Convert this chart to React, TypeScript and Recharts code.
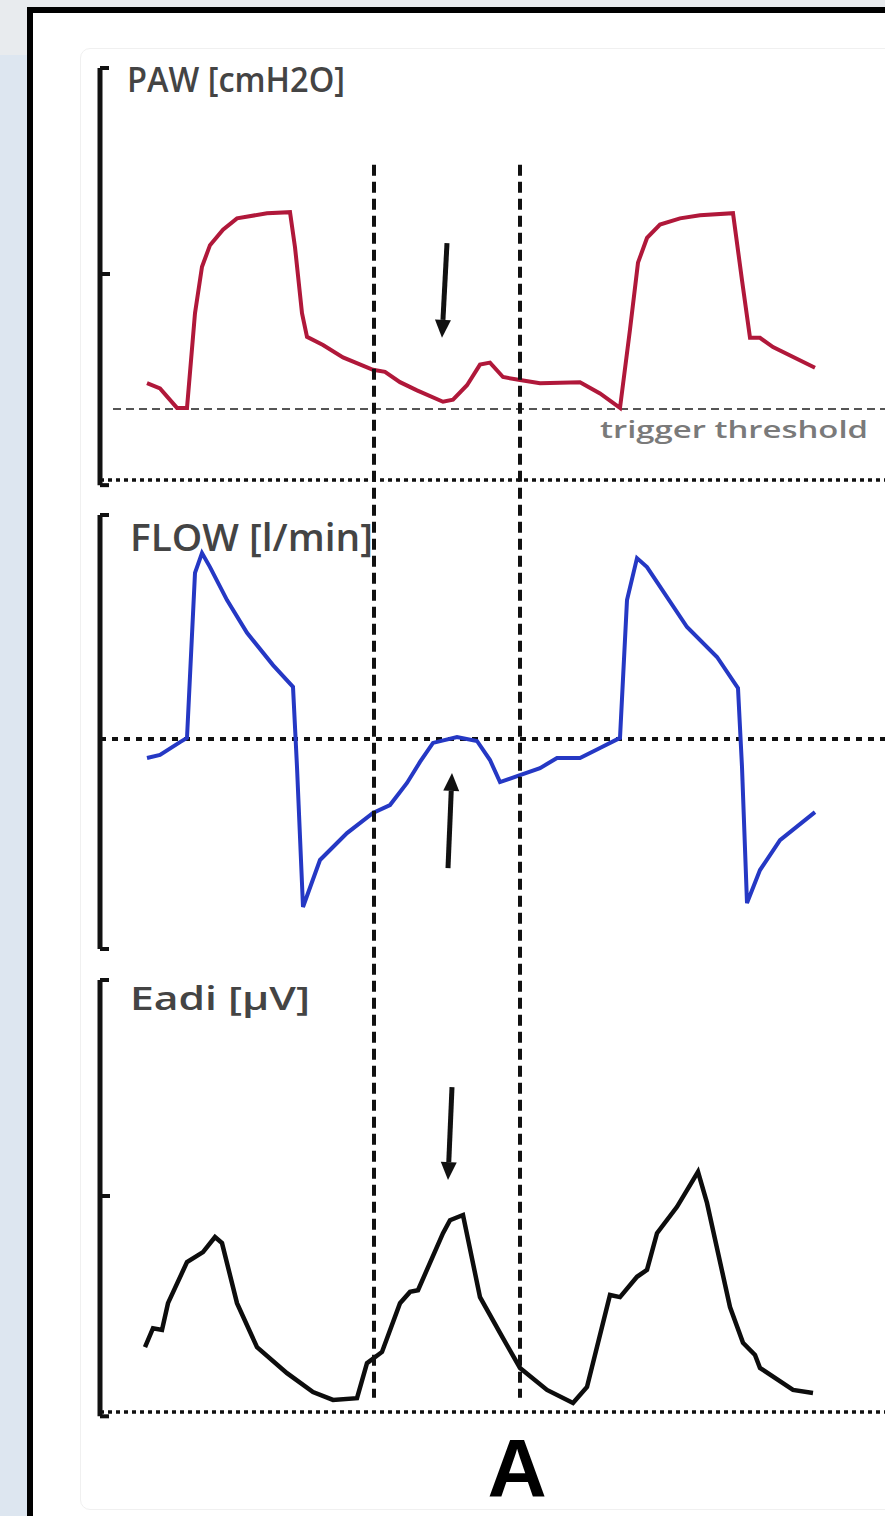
import React from 'react';
import { ComposedChart, Line, XAxis, YAxis, ReferenceLine } from 'recharts';

// time in seconds, values in panel units
const pawTrace: [number, number][] = [
  [0.47, 9.4], [0.6, 8.9], [0.77, 7.0], [0.87, 7.0], [0.95, 16.2], [1.02, 20.7],
  [1.1, 22.8], [1.23, 24.3], [1.37, 25.4], [1.67, 25.9], [1.9, 26.0], [1.95, 22.6],
  [2.02, 16.2], [2.07, 13.9], [2.23, 13.1], [2.43, 11.9], [2.73, 10.7], [2.85, 10.5],
  [3.0, 9.5], [3.17, 8.7], [3.43, 7.6], [3.53, 7.8], [3.67, 9.2], [3.8, 11.2],
  [3.9, 11.4], [4.03, 10.0], [4.2, 9.7], [4.4, 9.4], [4.8, 9.5], [5.0, 8.4],
  [5.2, 7.0], [5.3, 14.6], [5.38, 21.1], [5.47, 23.5], [5.6, 24.8], [5.8, 25.4],
  [6.0, 25.7], [6.33, 25.9], [6.42, 19.4], [6.5, 13.8], [6.6, 13.8], [6.73, 12.9],
  [7.15, 10.9],
];

const flowTrace: [number, number][] = [
  [0.47, -6.8], [0.6, -5.7], [0.8, -1.1], [0.87, 0.4], [0.95, 59.3], [1.02, 66.4],
  [1.1, 61.4], [1.27, 49.6], [1.47, 37.9], [1.73, 26.4], [1.93, 18.6], [1.97, -10.0],
  [2.03, -60.0], [2.2, -43.2], [2.47, -33.6], [2.73, -26.4], [2.9, -23.6], [3.07, -15.7],
  [3.2, -8.2], [3.33, -1.4], [3.57, 0.7], [3.77, -0.7], [3.9, -7.5], [4.0, -15.4],
  [4.2, -12.9], [4.4, -10.4], [4.57, -6.8], [4.8, -6.8], [5.0, -3.2], [5.2, 0.4],
  [5.27, 49.6], [5.37, 64.6], [5.47, 61.4], [5.87, 40.0], [6.17, 29.3], [6.38, 18.2],
  [6.42, -10.0], [6.47, -58.6], [6.6, -46.8], [6.8, -36.1], [7.15, -26.1],
];

const eadiTrace: [number, number][] = [
  [0.45, 15.0], [0.53, 19.4], [0.62, 19.0], [0.68, 25.2], [0.87, 34.7], [1.03, 37.0],
  [1.15, 40.5], [1.22, 39.1], [1.37, 25.2], [1.57, 15.0], [1.87, 9.0], [2.13, 4.6],
  [2.33, 2.8], [2.57, 3.2], [2.67, 11.3], [2.82, 13.9], [3.0, 25.2], [3.1, 27.8],
  [3.18, 28.2], [3.43, 41.4], [3.5, 44.4], [3.63, 45.6], [3.8, 26.6], [4.0, 18.3],
  [4.2, 10.2], [4.47, 5.1], [4.73, 2.1], [4.87, 5.8], [5.1, 27.1], [5.2, 26.6],
  [5.37, 31.3], [5.47, 32.9], [5.57, 41.4], [5.77, 47.5], [5.98, 55.6], [6.07, 48.4],
  [6.3, 24.3], [6.43, 16.0], [6.55, 13.2], [6.6, 10.2], [6.93, 5.1], [7.13, 4.4],
];

const triggerTimes = [2.74, 4.2];
const triggerThreshold = 6.9;

// arrows: [t0, v0, t1, v1], head at second point
const pawArrow = [3.47, 23.0, 3.42, 13.8];
const flowArrow = [3.48, -46.1, 3.52, -12.1];
const eadiArrow = [3.52, 75.2, 3.48, 53.7];

// bracket ranges [bottom, mid tick, top]
const pawBracket = [-0.5, 20, 40];
const flowBracket = [-75, null, 80];
const eadiBracket = [-1, 50, 100];

const W = 885;
const H = 1516;
const TOP = 60;
const BOTTOM = 1420;

// domain that places v0 at pixel p0 and v1 at pixel p1 inside the shared plot area
const domainFor = (v0: number, p0: number, v1: number, p1: number): [number, number] => {
  const k = (p0 - p1) / (v1 - v0);
  return [v0 - (BOTTOM - p0) / k, v1 + (p1 - TOP) / k];
};

const pawDomain = domainFor(0, 480, 40, 68);
const flowDomain = domainFor(0, 739, 80, 515);
const eadiDomain = domainFor(0, 1412, 100, 980);

const toPoints = (trace: [number, number][]) => trace.map(([t, v]) => ({ t, v }));

const Arrow = (props: any) => {
  const { x1, y1, x2, y2 } = props;
  const dx = x2 - x1;
  const dy = y2 - y1;
  const len = Math.hypot(dx, dy) || 1;
  const ux = dx / len;
  const uy = dy / len;
  const head = 18;
  const half = 8;
  const bx = x2 - ux * head;
  const by = y2 - uy * head;
  return (
    <g>
      <line x1={x1} y1={y1} x2={bx} y2={by} stroke="#111" strokeWidth={5} />
      <polygon
        points={`${x2},${y2} ${bx - uy * half},${by + ux * half} ${bx + uy * half},${by - ux * half}`}
        fill="#111"
      />
    </g>
  );
};

const bracketLines = (id: string, b: (number | null)[]) => {
  const [lo, mid, hi] = b as number[];
  const s = { stroke: '#111', strokeWidth: 5 };
  const out = [
    <ReferenceLine key={id + 'v'} yAxisId={id} segment={[{ x: 0, y: lo }, { x: 0, y: hi }]} {...s} />,
    <ReferenceLine key={id + 't'} yAxisId={id} segment={[{ x: 0, y: hi }, { x: 0.09, y: hi }]} {...s} strokeWidth={4} />,
    <ReferenceLine key={id + 'b'} yAxisId={id} segment={[{ x: 0, y: lo }, { x: 0.09, y: lo }]} {...s} strokeWidth={4} />,
  ];
  if (mid != null) {
    out.push(
      <ReferenceLine key={id + 'm'} yAxisId={id} segment={[{ x: 0, y: mid }, { x: 0.1, y: mid }]} {...s} strokeWidth={4} />
    );
  }
  return out;
};

const arrowLine = (id: string, a: number[]) => (
  <ReferenceLine
    key={id + 'arrow'}
    yAxisId={id}
    segment={[{ x: a[0], y: a[1] }, { x: a[2], y: a[3] }]}
    shape={(p: any) => <Arrow {...p} />}
  />
);

const App: React.FC = () => {
  const dotted = { stroke: '#111', strokeWidth: 3.5, strokeDasharray: '4 4' };
  return (
    <div
      style={{
        position: 'absolute',
        left: 0,
        top: 0,
        width: W,
        height: H,
        overflow: 'hidden',
        background: '#dde6f0',
        fontFamily: '"Open Sans", sans-serif',
      }}
    >
      <div style={{ position: 'absolute', left: 0, top: 0, width: W, height: 8, background: '#e8ebee' }} />
      <div style={{ position: 'absolute', left: 0, top: 0, width: 28, height: 55, background: '#e8ebee' }} />
      <div
        style={{
          position: 'absolute',
          left: 27,
          top: 7,
          width: W,
          height: H,
          border: '6px solid #000',
          background: '#fff',
        }}
      />
      <div
        style={{
          position: 'absolute',
          left: 80,
          top: 48,
          width: W,
          height: 1460,
          border: '1px solid #f0f0f0',
          borderRadius: 10,
        }}
      />
      <div style={{ position: 'absolute', left: 0, top: 0 }}>
        <ComposedChart width={W} height={H} margin={{ top: TOP, right: 0, bottom: H - BOTTOM, left: 100 }}>
          <XAxis dataKey="t" type="number" domain={[0, 7.85]} allowDataOverflow hide />
          <YAxis yAxisId="paw" type="number" domain={pawDomain} allowDataOverflow hide />
          <YAxis yAxisId="flow" type="number" domain={flowDomain} allowDataOverflow hide />
          <YAxis yAxisId="eadi" type="number" domain={eadiDomain} allowDataOverflow hide />

          <ReferenceLine yAxisId="paw" y={0} {...dotted} />
          <ReferenceLine yAxisId="flow" y={0} stroke="#111" strokeWidth={4} strokeDasharray="6 6" />
          <ReferenceLine yAxisId="eadi" y={0} {...dotted} />
          <ReferenceLine
            yAxisId="paw"
            segment={[{ x: 0.13, y: triggerThreshold }, { x: 7.85, y: triggerThreshold }]}
            stroke="#555"
            strokeWidth={2}
            strokeDasharray="8 5"
          />

          {bracketLines('paw', pawBracket)}
          {bracketLines('flow', flowBracket)}
          {bracketLines('eadi', eadiBracket)}

          <Line
            yAxisId="paw"
            data={toPoints(pawTrace)}
            dataKey="v"
            type="linear"
            stroke="#b0183a"
            strokeWidth={4}
            dot={false}
            activeDot={false}
            isAnimationActive={false}
          />
          <Line
            yAxisId="flow"
            data={toPoints(flowTrace)}
            dataKey="v"
            type="linear"
            stroke="#2538c4"
            strokeWidth={4}
            dot={false}
            activeDot={false}
            isAnimationActive={false}
          />
          <Line
            yAxisId="eadi"
            data={toPoints(eadiTrace)}
            dataKey="v"
            type="linear"
            stroke="#0d0d0d"
            strokeWidth={4.5}
            dot={false}
            activeDot={false}
            isAnimationActive={false}
          />

          {triggerTimes.map((t) => (
            <ReferenceLine
              key={'trig' + t}
              yAxisId="paw"
              segment={[{ x: t, y: 30.6 }, { x: t, y: -89.1 }]}
              stroke="#111"
              strokeWidth={4}
              strokeDasharray="11 6"
            />
          ))}

          {arrowLine('paw', pawArrow)}
          {arrowLine('flow', flowArrow)}
          {arrowLine('eadi', eadiArrow)}
        </ComposedChart>
      </div>
      <svg
        width={W}
        height={H}
        style={{ position: 'absolute', left: 0, top: 0, pointerEvents: 'none' }}
        fontFamily='"Open Sans", sans-serif'
      >
        <text x={127} y={92} fontSize={35} fontWeight={600} fill="#444" textLength={218} lengthAdjust="spacingAndGlyphs">
          PAW [cmH2O]
        </text>
        <text x={130} y={551} fontSize={37} fontWeight={600} fill="#444" textLength={243} lengthAdjust="spacingAndGlyphs">
          FLOW [l/min]
        </text>
        <text x={130} y={1010} fontSize={33} fontWeight={600} fill="#444" textLength={180} lengthAdjust="spacingAndGlyphs">
          Eadi [µV]
        </text>
        <text x={600} y={438} fontSize={24} fontWeight={600} fill="#7a7a7a" textLength={268} lengthAdjust="spacingAndGlyphs">
          trigger threshold
        </text>
        <text x={517} y={1496} textAnchor="middle" fontSize={82} fontWeight={700} fill="#000" fontFamily='"Liberation Sans", Arial, sans-serif'>
          A
        </text>
      </svg>
    </div>
  );
};

export default App;
